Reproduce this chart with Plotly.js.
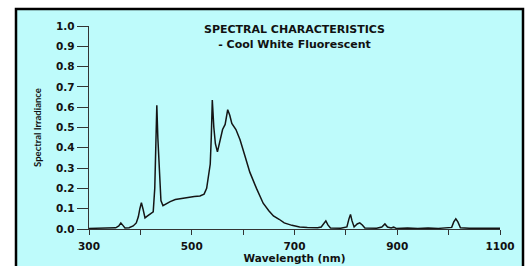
<!DOCTYPE html>
<html>
<head>
<meta charset="utf-8">
<script src="https://cdn.plot.ly/plotly-3.0.1.min.js"></script>
<style>html,body{margin:0;padding:0;background:#fff;}#chart{width:525px;height:266px;}</style>
</head>
<body>
<div id="chart"></div>
<script>
const wavelength = [300,320,340,352,358,362,366,370,378,386,392,396,399,402,405,409,414,420,425,428,430,432,434,437,440,444,450,458,468,478,490,505,516,524,529,533,536,538,540,543,546,550,555,560,565,570,574,578,586,594,604,613,626,639,650,659,670,680,695,710,725,745,752,757,761,765,770,790,802,806,809,812,816,822,827,832,837,860,870,876,881,888,893,898,920,940,960,980,1000,1006,1010,1014,1018,1023,1040,1070,1100];
const irradiance = [0.003,0.003,0.004,0.006,0.015,0.03,0.018,0.005,0.006,0.015,0.03,0.06,0.10,0.13,0.10,0.055,0.065,0.075,0.085,0.2,0.45,0.61,0.45,0.25,0.14,0.115,0.125,0.135,0.145,0.15,0.155,0.16,0.163,0.172,0.2,0.26,0.32,0.45,0.635,0.5,0.42,0.38,0.43,0.49,0.515,0.588,0.56,0.52,0.49,0.44,0.356,0.28,0.2,0.127,0.09,0.064,0.048,0.03,0.018,0.01,0.007,0.006,0.01,0.03,0.04,0.02,0.005,0.004,0.01,0.05,0.072,0.04,0.01,0.025,0.03,0.02,0.005,0.004,0.01,0.025,0.01,0.005,0.009,0.003,0.005,0.003,0.005,0.003,0.004,0.008,0.035,0.05,0.035,0.006,0.004,0.005,0.004];
const xTickVals = [300,400,500,600,700,800,900,1000,1100];
const xTickText = ['300','','500','','700','','900','','1100'];
const yTickVals = [0,0.1,0.2,0.3,0.4,0.5,0.6,0.7,0.8,0.9,1.0];
const yTickText = ['0.0','0.1','0.2','0.3','0.4','0.5','0.6','0.7','0.8','0.9','1.0'];
const titleText = 'SPECTRAL CHARACTERISTICS<br>- Cool White Fluorescent';

const fam = '"DejaVu Sans", sans-serif';
const trace = {
  x: wavelength, y: irradiance, type: 'scatter', mode: 'lines',
  line: {color: '#151515', width: 1.5}, hoverinfo: 'skip'
};
const layout = {
  width: 525, height: 266,
  margin: {l: 89, r: 25, t: 26, b: 37},
  paper_bgcolor: '#ffffff',
  plot_bgcolor: 'rgba(0,0,0,0)',
  showlegend: false,
  title: {
    text: titleText, x: 0.5, xref: 'paper', xanchor: 'center',
    y: 0.875, yref: 'container', yanchor: 'top',
    font: {family: fam, size: 11, color: '#111', weight: 700}
  },
  xaxis: {
    range: [300, 1100], tickmode: 'array', tickvals: xTickVals, ticktext: xTickText,
    showgrid: false, zeroline: false, showline: true, linecolor: '#333', linewidth: 1.3,
    ticks: 'outside', ticklen: 5, tickcolor: '#333', tickwidth: 1,
    ticklabelstandoff: 2,
    tickfont: {family: fam, size: 10.5, color: '#111', weight: 700},
    title: {text: 'Wavelength (nm)', standoff: 0, font: {family: fam, size: 10.5, color: '#111', weight: 700}},
    fixedrange: true
  },
  yaxis: {
    range: [0, 1.0], tickmode: 'array', tickvals: yTickVals, ticktext: yTickText,
    showgrid: false, zeroline: false, showline: true, linecolor: '#333', linewidth: 1.3,
    ticks: 'outside', ticklen: 11, tickcolor: '#333', tickwidth: 1,
    tickfont: {family: fam, size: 10.5, color: '#111', weight: 700},
    title: {text: 'Spectral Irradiance', standoff: 12, font: {family: 'Lato, sans-serif', size: 9.5, color: '#111', weight: 700}},
    fixedrange: true
  },
  shapes: [{
    type: 'rect', xref: 'paper', yref: 'paper', layer: 'below',
    x0: (16 - 89) / 411, x1: (523 - 89) / 411,
    y0: (229 - 290) / 203, y1: (229 - 9) / 203,
    line: {color: '#000', width: 2.5}, fillcolor: '#BEFBFB'
  }]
};
Plotly.newPlot('chart', [trace], layout, {staticPlot: true, displayModeBar: false});
</script>
</body>
</html>
